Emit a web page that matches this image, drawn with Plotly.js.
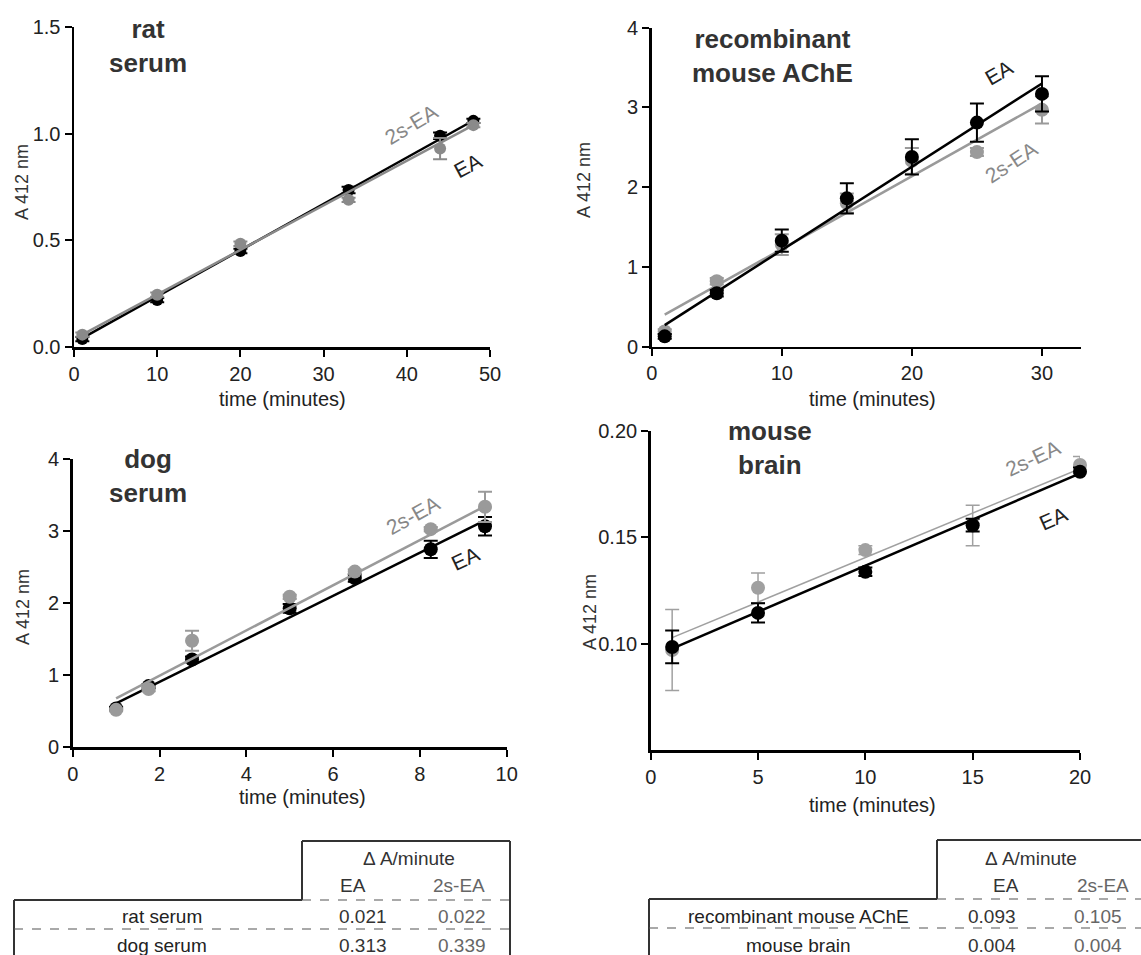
<!DOCTYPE html>
<html><head><meta charset="utf-8">
<script src="https://cdn.plot.ly/plotly-3.0.1.min.js"></script>
<style>html,body{margin:0;padding:0;background:#fff}#chart{width:1141px;height:955px}</style>
</head><body><div id="chart"></div>
<script>
// ---------------- data ----------------
const ratTime = [1, 10, 20, 33, 44, 48];
const ratEA = [0.037, 0.22, 0.45, 0.736, 0.99, 1.06];
const ratEAErr = [0.01, 0.01, 0.01, 0.015, 0.015, 0.01];
const rat2sEA = [0.058, 0.245, 0.484, 0.69, 0.93, 1.04];
const rat2sEAErr = [0.01, 0.01, 0.01, 0.01, 0.05, 0.01];

const achTime = [1, 5, 10, 15, 20, 25, 30];
const achEA = [0.13, 0.67, 1.33, 1.86, 2.38, 2.81, 3.17];
const achEAErr = [0.03, 0.04, 0.14, 0.19, 0.22, 0.24, 0.22];
const ach2sEA = [0.19, 0.82, 1.28, 1.80, 2.33, 2.44, 2.97];
const ach2sEAErr = [0.03, 0.04, 0.13, 0.12, 0.16, 0.05, 0.17];

const dogTime = [1, 1.75, 2.75, 5, 6.5, 8.25, 9.5];
const dogEA = [0.54, 0.85, 1.22, 1.93, 2.35, 2.75, 3.07];
const dogEAErr = [0.02, 0.03, 0.04, 0.06, 0.05, 0.12, 0.13];
const dog2sEA = [0.52, 0.81, 1.48, 2.09, 2.44, 3.03, 3.34];
const dog2sEAErr = [0.02, 0.03, 0.14, 0.03, 0.03, 0.03, 0.21];

const brainTime = [1, 5, 10, 15, 20];
const brainEA = [0.0984, 0.1144, 0.1337, 0.1556, 0.1807];
const brainEAErr = [0.0077, 0.0045, 0.002, 0.003, 0.002];
const brain2sEA = [0.097, 0.1262, 0.1439, 0.1555, 0.1839];
const brain2sEAErr = [0.019, 0.007, 0.002, 0.0095, 0.004];

// linear fits (slope, intercept) : rat, AChE, dog, brain
const fitSlopeEA = [0.0217, 0.1045, 0.299, 0.00433];
const fitInterceptEA = [0.020, 0.166, 0.31, 0.0933];
const fitSlope2sEA = [0.0209, 0.0914, 0.314, 0.00418];
const fitIntercept2sEA = [0.037, 0.31, 0.366, 0.0986];

const panelTitles = ['rat<br>serum', 'recombinant<br>mouse AChE', 'dog<br>serum', 'mouse<br>brain'];
const seriesNames = ['EA', '2s-EA'];

const xTicks = [[0,10,20,30,40,50], [0,10,20,30], [0,2,4,6,8,10], [0,5,10,15,20]];
const yTicks = [[0,0.5,1.0,1.5], [0,1,2,3,4], [0,1,2,3,4], [0.10,0.15,0.20]];

const tableHeader = 'Δ A/minute';
const tableLeftRows = ['rat serum', 'dog serum'];
const tableLeftEA = ['0.021', '0.313'];
const tableLeft2sEA = ['0.022', '0.339'];
const tableRightRows = ['recombinant mouse AChE', 'mouse brain'];
const tableRightEA = ['0.093', '0.004'];
const tableRight2sEA = ['0.105', '0.004'];

// ---------------- layout helpers ----------------
const W = 1141, H = 955;
const px = x => x / W;
const py = y => 1 - y / H;
const F = 'Liberation Sans, Arial, Helvetica, sans-serif';

const datasets = [
  {t: ratTime, ea: ratEA, eaErr: ratEAErr, s2: rat2sEA, s2Err: rat2sEAErr},
  {t: achTime, ea: achEA, eaErr: achEAErr, s2: ach2sEA, s2Err: ach2sEAErr},
  {t: dogTime, ea: dogEA, eaErr: dogEAErr, s2: dog2sEA, s2Err: dog2sEAErr},
  {t: brainTime, ea: brainEA, eaErr: brainEAErr, s2: brain2sEA, s2Err: brain2sEAErr}
];

// pixel boxes [x0, x1, yTop, yBottom], ranges, styling
const panels = [
  {box: [74, 490, 27, 347], xr: [0, 50], yr: [0, 1.5], yfmt: '.1f', grey: '#8a8a8a', greyW: 2.5, eaOnTop: false, ms: 12,
   title: [148, 46], ytitle: [22, 182], xtitle: [282, 399],
   lab2s: [411, 125, -31], labEA: [468, 166, -28]},
  {box: [651.7, 1081, 27.7, 346.7], xr: [0, 33], yr: [0, 4], yfmt: 'd', grey: '#9a9a9a', greyW: 2.5, eaOnTop: true, ms: 14,
   title: [772, 56], ytitle: [584, 180], xtitle: [872, 399],
   lab2s: [1011, 163, -33], labEA: [999, 73, -30]},
  {box: [72.7, 506.7, 459.3, 747.3], xr: [0, 10], yr: [0, 4], yfmt: 'd', grey: '#9a9a9a', greyW: 2.5, eaOnTop: false, ms: 14,
   title: [148, 476], ytitle: [23, 607], xtitle: [302, 797],
   lab2s: [412, 515, -29], labEA: [465, 558, -25]},
  {box: [650.7, 1080, 430.7, 750], xr: [0, 20], yr: [0.05, 0.20], yfmt: '.2f', grey: '#a0a0a0', greyW: 1.5, eaOnTop: true, ms: 14,
   title: [770, 448], ytitle: [590, 612], xtitle: [872, 805],
   lab2s: [1032, 458, -25], labEA: [1053, 518, -24]}
];

const traces = [];
const layout = {
  width: W, height: H, autosize: false,
  margin: {l: 0, r: 0, t: 0, b: 0},
  paper_bgcolor: '#fff', plot_bgcolor: '#fff',
  showlegend: false,
  font: {family: F, color: '#222'},
  annotations: [], shapes: []
};

panels.forEach((p, i) => {
  const n = i === 0 ? '' : String(i + 1);
  const xa = 'x' + n, ya = 'y' + n;
  const d = datasets[i];
  const common = {showline: true, linecolor: '#000', linewidth: 2.5, ticks: 'outside', ticklen: 7,
    tickwidth: 2, tickcolor: '#000', showgrid: false, zeroline: false, fixedrange: true,
    tickfont: {family: F, size: 20, color: '#222'}};
  layout['xaxis' + n] = Object.assign({}, common, {
    domain: [px(p.box[0]), px(p.box[1])], range: p.xr, tickvals: xTicks[i], anchor: ya});
  layout['yaxis' + n] = Object.assign({}, common, {
    domain: [py(p.box[3]), py(p.box[2])], range: p.yr, tickvals: yTicks[i], tickformat: p.yfmt, anchor: xa});

  const t0 = d.t[0], t1 = d.t[d.t.length - 1];
  const fitEA = {x: [t0, t1], y: [fitInterceptEA[i] + fitSlopeEA[i] * t0, fitInterceptEA[i] + fitSlopeEA[i] * t1],
    mode: 'lines', line: {color: '#000', width: 2.5}, xaxis: xa, yaxis: ya, hoverinfo: 'skip', cliponaxis: false};
  const fit2s = {x: [t0, t1], y: [fitIntercept2sEA[i] + fitSlope2sEA[i] * t0, fitIntercept2sEA[i] + fitSlope2sEA[i] * t1],
    mode: 'lines', line: {color: p.grey, width: p.greyW}, xaxis: xa, yaxis: ya, hoverinfo: 'skip', cliponaxis: false};
  const ptsEA = {x: d.t, y: d.ea, name: seriesNames[0], mode: 'markers', xaxis: xa, yaxis: ya, cliponaxis: false,
    marker: {color: '#000', size: p.ms},
    error_y: {type: 'data', array: d.eaErr, visible: true, color: '#000', thickness: 2, width: 7}};
  const pts2s = {x: d.t, y: d.s2, name: seriesNames[1], mode: 'markers', xaxis: xa, yaxis: ya, cliponaxis: false,
    marker: {color: p.grey, size: p.ms},
    error_y: {type: 'data', array: d.s2Err, visible: true, color: p.grey, thickness: i === 3 ? 1.5 : 2, width: 7}};
  if (p.eaOnTop) traces.push(pts2s, fit2s, ptsEA, fitEA);
  else traces.push(ptsEA, fitEA, pts2s, fit2s);

  const ann = (x, y, text, font, extra) => layout.annotations.push(Object.assign({
    xref: 'paper', yref: 'paper', x: px(x), y: py(y), text, showarrow: false,
    xanchor: 'center', yanchor: 'middle', font}, extra || {}));
  ann(p.title[0], p.title[1], '<b>' + panelTitles[i] + '</b>', {family: F, size: 26, color: '#333'});
  ann(p.ytitle[0], p.ytitle[1], 'A 412 nm', {family: F, size: 18, color: '#333'}, {textangle: -90});
  ann(p.xtitle[0], p.xtitle[1], 'time (minutes)', {family: F, size: 20, color: '#222'});
  ann(p.lab2s[0], p.lab2s[1], seriesNames[1], {family: F, size: 21, color: '#888'}, {textangle: p.lab2s[2]});
  ann(p.labEA[0], p.labEA[1], seriesNames[0], {family: F, size: 21, color: '#222'}, {textangle: p.labEA[2]});
});

// ---------------- tables ----------------
function line(x0, y0, x1, y1, dashed) {
  layout.shapes.push({type: 'line', xref: 'paper', yref: 'paper', x0: px(x0), y0: py(y0), x1: px(x1), y1: py(y1),
    line: dashed ? {color: '#555', width: 1.2, dash: 'dash'} : {color: '#333', width: 2}});
}
function tableText(x, y, text, color) {
  layout.annotations.push({xref: 'paper', yref: 'paper', x: px(x), y: py(y), text, showarrow: false,
    xanchor: 'center', yanchor: 'middle', font: {family: F, size: 19, color}});
}
function drawTable(geo, rows, eaVals, s2Vals) {
  const [xl, xh, xr, yTop, yHead, yMid, yBottom] = geo;
  line(xh, yTop, xh, yHead); line(xh, yTop, xr, yTop); line(xr, yTop, xr, yBottom);
  line(xl, yHead, xh, yHead); line(xh, yHead, xr, yHead, true);
  line(xl, yHead, xl, yBottom); line(xl, yMid, xr, yMid, true);
  tableText(geo[7], 858, tableHeader, '#333');
  tableText(geo[8], 885, seriesNames[0], '#333');
  tableText(geo[9], 885, seriesNames[1], '#666');
  rows.forEach((r, k) => {
    const y = k === 0 ? 916.5 : 945;
    tableText(geo[10], y, r, '#222');
    tableText(geo[11], y, eaVals[k], '#333');
    tableText(geo[12], y, s2Vals[k], '#666');
  });
}
// geometry: xl, xHeaderLeft, xRight, yTop, yHeaderBottom, yRowDivider, yBottom, header cx, EA cx, 2s cx, label cx, EA val cx, 2s val cx
drawTable([14, 302, 510, 841, 900, 929, 970, 409, 353, 459, 162, 363, 462], tableLeftRows, tableLeftEA, tableLeft2sEA);
drawTable([649, 937, 1160, 840, 899, 928, 970, 1031, 1006, 1103, 798, 992, 1098], tableRightRows, tableRightEA, tableRight2sEA);

Plotly.newPlot('chart', traces, layout, {displayModeBar: false, staticPlot: true});
</script>
</body></html>
